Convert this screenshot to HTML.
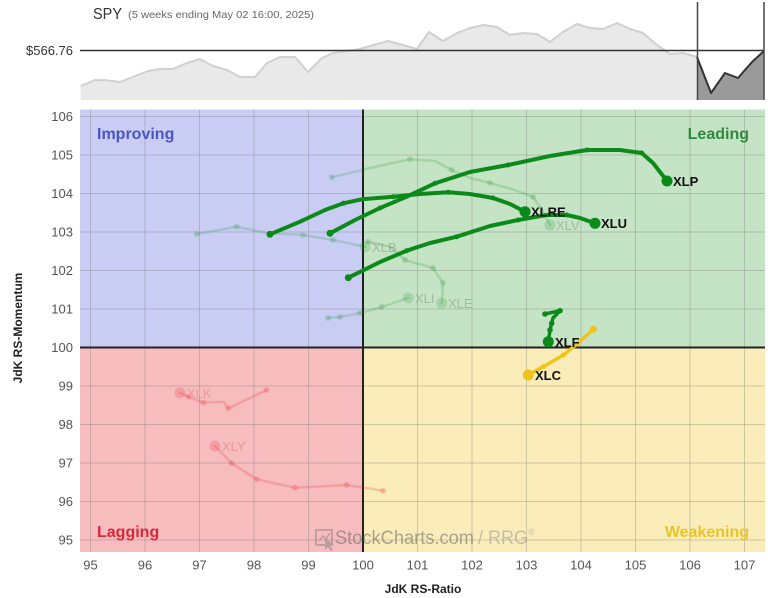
<!DOCTYPE html>
<html><head><meta charset="utf-8">
<style>
html,body{margin:0;padding:0;background:#fff;}
svg{display:block;font-family:"Liberation Sans",sans-serif;}
</style></head>
<body>
<svg width="768" height="598" viewBox="0 0 768 598" xmlns="http://www.w3.org/2000/svg">
<rect width="768" height="598" fill="#fff"/>
<!-- SPY chart -->
<text x="93" y="19" font-size="16" fill="#333" textLength="29" lengthAdjust="spacingAndGlyphs">SPY</text>
<text x="128" y="18" font-size="10" fill="#666" textLength="186" lengthAdjust="spacingAndGlyphs">(5 weeks ending May 02 16:00, 2025)</text>
<polygon fill="#e9e9e9" points="80.7,100 80.7,86 95,80 106.7,80.3 120,82 133,77 148,71 160,69 173,69 187,63 200,59 213,66 227,70 240,77 255,77 267,63 280,57 295,57 308,72 322,58 333,53 347,51 360,49 377,44 388,41 403,45 417,49 429,32 443,41 457,33 470,28 483,25 497,27 510,35 523,33 537,34 550,42 563,32 577,24 590,28 603,29 617,23 630,29 643,33 657,45 670,54 683,53 697,57 697,100"/>
<polyline fill="none" stroke="#d0d0d0" stroke-width="2" stroke-linejoin="round" points="80.7,86 95,80 106.7,80.3 120,82 133,77 148,71 160,69 173,69 187,63 200,59 213,66 227,70 240,77 255,77 267,63 280,57 295,57 308,72 322,58 333,53 347,51 360,49 377,44 388,41 403,45 417,49 429,32 443,41 457,33 470,28 483,25 497,27 510,35 523,33 537,34 550,42 563,32 577,24 590,28 603,29 617,23 630,29 643,33 657,45 670,54 683,53 697,57"/>
<polygon fill="#9a9a9a" points="697,57 711,93 725,73 738,78 752,62 764,51 764,100 697,100"/>
<polyline fill="none" stroke="#333" stroke-width="2" stroke-linejoin="round" points="697,57 711,93 725,73 738,78 752,62 764,51"/>
<line x1="80" y1="50.5" x2="764" y2="50.5" stroke="#333" stroke-width="1.6"/>
<line x1="697.5" y1="2" x2="697.5" y2="100" stroke="#444" stroke-width="1.5"/>
<line x1="764" y1="2" x2="764" y2="100" stroke="#444" stroke-width="1.5"/>
<text x="73" y="55" font-size="13" fill="#333" text-anchor="end">$566.76</text>

<!-- Quadrants -->
<rect x="80" y="109.5" width="283" height="238" fill="#c9cdf4"/>
<rect x="363" y="109.5" width="402" height="238" fill="#c5e3c5"/>
<rect x="80" y="347.5" width="283" height="204.5" fill="#f7bcbe"/>
<rect x="363" y="347.5" width="402" height="204.5" fill="#fbedb9"/>

<!-- Grid -->
<g stroke="#7a7a7a" stroke-opacity="0.35" stroke-width="1">
<line x1="90.5" y1="109.5" x2="90.5" y2="552"/>
<line x1="145" y1="109.5" x2="145" y2="552"/>
<line x1="199.5" y1="109.5" x2="199.5" y2="552"/>
<line x1="254" y1="109.5" x2="254" y2="552"/>
<line x1="308.5" y1="109.5" x2="308.5" y2="552"/>
<line x1="417.5" y1="109.5" x2="417.5" y2="552"/>
<line x1="472" y1="109.5" x2="472" y2="552"/>
<line x1="526.5" y1="109.5" x2="526.5" y2="552"/>
<line x1="581" y1="109.5" x2="581" y2="552"/>
<line x1="635.5" y1="109.5" x2="635.5" y2="552"/>
<line x1="690" y1="109.5" x2="690" y2="552"/>
<line x1="744.5" y1="109.5" x2="744.5" y2="552"/>
<line x1="80" y1="116.5" x2="765" y2="116.5"/>
<line x1="80" y1="155" x2="765" y2="155"/>
<line x1="80" y1="193.5" x2="765" y2="193.5"/>
<line x1="80" y1="232" x2="765" y2="232"/>
<line x1="80" y1="270.5" x2="765" y2="270.5"/>
<line x1="80" y1="309" x2="765" y2="309"/>
<line x1="80" y1="386" x2="765" y2="386"/>
<line x1="80" y1="424.5" x2="765" y2="424.5"/>
<line x1="80" y1="463" x2="765" y2="463"/>
<line x1="80" y1="501.5" x2="765" y2="501.5"/>
<line x1="80" y1="540" x2="765" y2="540"/>
</g>
<line x1="363" y1="109.5" x2="363" y2="552" stroke="#222" stroke-width="2"/>
<line x1="80" y1="347.5" x2="765" y2="347.5" stroke="#222" stroke-width="2"/>

<!-- Quadrant labels -->
<text x="97" y="139" font-size="16" font-weight="bold" fill="#4a55c0">Improving</text>
<text x="749" y="139" font-size="16" font-weight="bold" fill="#2e8b3e" text-anchor="end">Leading</text>
<text x="97" y="537" font-size="16" font-weight="bold" fill="#d52a3c">Lagging</text>
<text x="749" y="537" font-size="16" font-weight="bold" fill="#e8c42a" text-anchor="end">Weakening</text>

<!-- Watermark -->
<g opacity="0.55">
<rect x="316" y="530" width="16" height="15" fill="none" stroke="#777" stroke-width="1.5"/>
<polyline points="319,541 323,536 326,539 330,533" fill="none" stroke="#777" stroke-width="1.2"/>
<polygon points="325,538 325,550 328,547 331,551 333,550 330,546 334,545" fill="#888"/>
<text x="335" y="544" font-size="19" fill="#666" textLength="139" lengthAdjust="spacingAndGlyphs">StockCharts.com</text>
<text x="478" y="544" font-size="19" fill="#999" textLength="50" lengthAdjust="spacingAndGlyphs">/ RRG</text>
<text x="528" y="535" font-size="9" fill="#999">®</text>
</g>

<!-- Faded trails -->
<g fill="none" stroke-linejoin="round" stroke-linecap="round">
<g stroke="#0b8a1a" stroke-opacity="0.18" stroke-width="2.5">
<polyline points="331.7,177.3 370,168 410,159.3 435,161 451.7,170 470,178 490,183 515,190 533,197 542,210 550,225"/>
<polyline points="196.7,234 236.7,226.7 266.7,233 303,235 333,240 365,246.7"/>
<polyline points="368,241.7 390,246.7 405,260 433,268 443,283 441.7,303.3"/>
<polyline points="328,318 340,317 360,313 381.7,307 408.3,298"/>
</g>
<g stroke="#e8303a" stroke-opacity="0.22" stroke-width="2.5">
<polyline points="266.7,390 228.3,408.3 223.3,401.7 203.3,402.7 188.3,396.7 180,392.7"/>
<polyline points="383.3,490.7 346.7,485 295,487.7 256.7,479.3 231.7,463.3 215,446"/>
</g>
</g>
<g fill="#0b8a1a" fill-opacity="0.18">
<circle cx="331.7" cy="177.3" r="3"/><circle cx="410" cy="159.3" r="3"/><circle cx="451.7" cy="170" r="3"/><circle cx="490" cy="183" r="3"/><circle cx="533" cy="197" r="3"/><circle cx="550" cy="225" r="5.5"/>
<circle cx="196.7" cy="234" r="3"/><circle cx="236.7" cy="226.7" r="3"/><circle cx="303" cy="235" r="3"/><circle cx="333" cy="240" r="3"/><circle cx="365" cy="246.7" r="5.5"/>
<circle cx="368" cy="241.7" r="3"/><circle cx="405" cy="260" r="3"/><circle cx="433" cy="268" r="3"/><circle cx="443" cy="283" r="3"/><circle cx="441.7" cy="303.3" r="5.5"/>
<circle cx="328" cy="318" r="3"/><circle cx="340" cy="317" r="3"/><circle cx="360" cy="313" r="3"/><circle cx="381.7" cy="307" r="3"/><circle cx="408.3" cy="298" r="5.5"/>
</g>
<g fill="#e8303a" fill-opacity="0.22">
<circle cx="266.7" cy="390" r="3"/><circle cx="228.3" cy="408.3" r="3"/><circle cx="203.3" cy="402.7" r="3"/><circle cx="188.3" cy="396.7" r="3"/><circle cx="180" cy="392.7" r="5.5"/>
<circle cx="383.3" cy="490.7" r="3"/><circle cx="346.7" cy="485" r="3"/><circle cx="295" cy="487.7" r="3"/><circle cx="256.7" cy="479.3" r="3"/><circle cx="231.7" cy="463.3" r="3"/><circle cx="215" cy="446" r="5.5"/>
</g>
<g font-size="13" fill="#555" fill-opacity="0.3">
<text x="556" y="230">XLV</text>
<text x="372" y="252">XLB</text>
<text x="448" y="308">XLE</text>
<text x="415" y="303">XLI</text>
</g>
<g font-size="13" fill="#c44" fill-opacity="0.3">
<text x="187" y="398">XLK</text>
<text x="222" y="451">XLY</text>
</g>

<!-- Active trails -->
<g fill="none" stroke="#0b8a1a" stroke-width="4" stroke-linejoin="round" stroke-linecap="round">
<polyline points="330,233.3 355,220 380,208 406.7,196.7 435,183.3 470,172 508,165 550,156 587,150 620,150 641.7,153 653,163 660,172 667,181"/>
<polyline points="270,234.3 300,221.7 325,210 343.3,203.3 361.7,199.3 393.3,196.7 420,194 448.3,192.3 470,194 493,198 510,204 525,211.7"/>
<polyline points="348.3,277.7 380,262 406.7,250.7 430,243 456.7,236.7 490,226 518,220 546.7,215 566.7,215 580,218 595,223.3"/>
<polyline stroke-width="3.5" points="545,314 560,310.7 553,318 551.7,323.3 550,330 548.3,341.7"/>
</g>
<polyline fill="none" stroke="#f0c419" stroke-width="3.5" stroke-linejoin="round" stroke-linecap="round" points="593.3,329.3 576.7,344.3 563.3,355 543.3,366.7 528.3,375"/>
<g fill="#0b8a1a">
<circle cx="330" cy="233.3" r="3.5"/><circle cx="380" cy="208" r="2.5"/><circle cx="435" cy="183.3" r="2.5"/><circle cx="508" cy="165" r="2.5"/><circle cx="587" cy="150" r="2.5"/><circle cx="641.7" cy="153" r="2.5"/><circle cx="667" cy="181" r="5.5"/>
<circle cx="270" cy="234.3" r="3.5"/><circle cx="343.3" cy="203.3" r="2.5"/><circle cx="393.3" cy="196.7" r="2.5"/><circle cx="448.3" cy="192.3" r="2.5"/><circle cx="493" cy="198" r="2.5"/><circle cx="525" cy="211.7" r="5.5"/>
<circle cx="348.3" cy="277.7" r="3.5"/><circle cx="406.7" cy="250.7" r="2.5"/><circle cx="456.7" cy="236.7" r="2.5"/><circle cx="518" cy="220" r="2.5"/><circle cx="566.7" cy="215" r="2.5"/><circle cx="595" cy="223.3" r="5.5"/>
<circle cx="545" cy="314" r="2.8"/><circle cx="560" cy="310.7" r="2.8"/><circle cx="551.7" cy="323.3" r="2.8"/><circle cx="550" cy="330" r="2.8"/><circle cx="548.3" cy="341.7" r="5.5"/>
</g>
<g fill="#f0c419">
<circle cx="593.3" cy="329.3" r="3.5"/><circle cx="576.7" cy="344.3" r="2.5"/><circle cx="563.3" cy="355" r="2.5"/><circle cx="543.3" cy="366.7" r="2.5"/><circle cx="528.3" cy="375" r="5.5"/>
</g>
<g font-size="13" font-weight="bold" fill="#111">
<text x="673" y="186">XLP</text>
<text x="531" y="216.5">XLRE</text>
<text x="601" y="228">XLU</text>
<text x="555" y="347">XLF</text>
<text x="535" y="380">XLC</text>
</g>

<!-- Y ticks -->
<g font-size="13" fill="#555" text-anchor="end">
<text x="73" y="121">106</text>
<text x="73" y="159.5">105</text>
<text x="73" y="198">104</text>
<text x="73" y="236.5">103</text>
<text x="73" y="275">102</text>
<text x="73" y="313.5">101</text>
<text x="73" y="352">100</text>
<text x="73" y="390.5">99</text>
<text x="73" y="429">98</text>
<text x="73" y="467.5">97</text>
<text x="73" y="506">96</text>
<text x="73" y="544.5">95</text>
</g>
<!-- X ticks -->
<g font-size="13" fill="#555" text-anchor="middle">
<text x="90.5" y="569.5">95</text>
<text x="145" y="569.5">96</text>
<text x="199.5" y="569.5">97</text>
<text x="254" y="569.5">98</text>
<text x="308.5" y="569.5">99</text>
<text x="363" y="569.5">100</text>
<text x="417.5" y="569.5">101</text>
<text x="472" y="569.5">102</text>
<text x="526.5" y="569.5">103</text>
<text x="581" y="569.5">104</text>
<text x="635.5" y="569.5">105</text>
<text x="690" y="569.5">106</text>
<text x="744.5" y="569.5">107</text>
</g>
<text x="423" y="593" font-size="12" font-weight="bold" fill="#222" text-anchor="middle">JdK RS-Ratio</text>
<text x="0" y="0" font-size="12" font-weight="bold" fill="#222" text-anchor="middle" transform="translate(22,328) rotate(-90)">JdK RS-Momentum</text>
</svg>
</body></html>
